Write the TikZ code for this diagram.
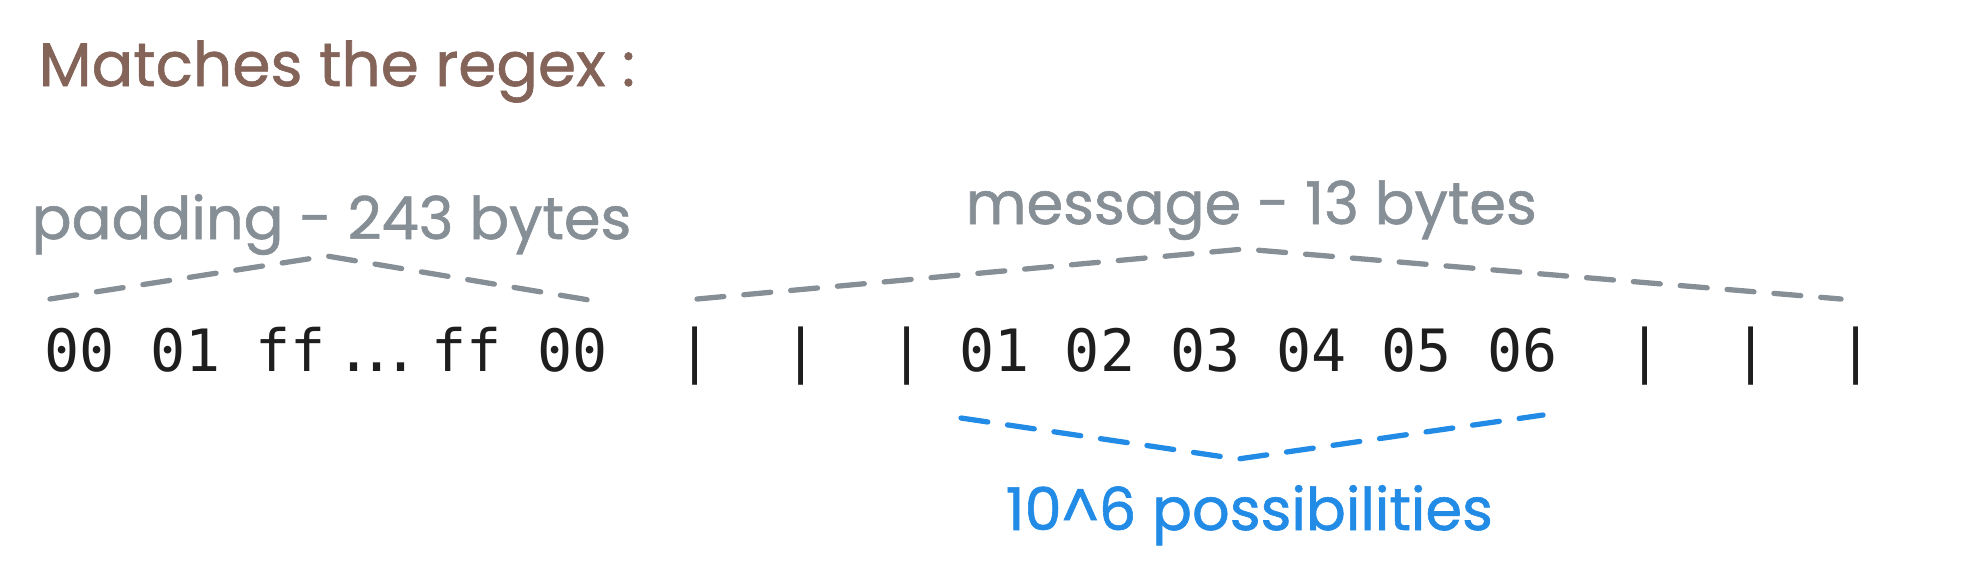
\documentclass[tikz,border=0pt]{standalone}
\usepackage{fontspec}
\usepackage{tikz}
\usetikzlibrary{positioning}
\setmonofont{DejaVu Sans Mono}
\newfontfamily\handfont[FakeBold=1]{Poppins}
\definecolor{mybrown}{RGB}{132, 99, 88}
\definecolor{mygray}{RGB}{134, 142, 150}
\definecolor{myblue}{RGB}{34, 139, 230}
\definecolor{myblack}{RGB}{30, 30, 30}
\newcommand{\bytedots}{\kern0.17em.\kern-0.2em.\kern-0.2em.}

\begin{document}
\begin{tikzpicture}[
    hand/.style={font=\handfont\fontsize{16.8}{20}\selectfont, inner sep=0pt, anchor=base west},
    byte/.style={font=\ttfamily\fontsize{16.6}{20}\selectfont, text=myblack, inner sep=0pt, anchor=base west},
    brace/.style={dash pattern=on 0.27cm off 0.2cm, line width=1.5pt, line cap=round, line join=round},
]
    \useasboundingbox (0,0) rectangle (19.7,-5.85);

    % title
    \node[hand, mybrown, font=\handfont\fontsize{17.5}{21}\selectfont] (title) at (0.38,-0.86) {Matches the regex :};

    % byte row
    \foreach \i/\t [count=\n] in {0/00, 3/01, 6/ff, 8/\bytedots, 11/ff, 14/00, 18/|, 21/|, 24/|,
        26/01, 29/02, 32/03, 35/04, 38/05, 41/06, 45/|, 48/|, 51/|}
        \node[byte] (b\n) at ({0.44+\i*0.3518},-3.71) {\t};

    % padding
    \node[hand, mygray] (padlabel) at (0.31,-2.39) {padding - 243 bytes};
    \draw[brace, mygray] (0.50,-2.99) -- (3.27,-2.56) -- (6.01,-3.02);

    % message
    \node[hand, mygray] (msglabel) at (9.65,-2.24) {message - 13 bytes};
    \draw[brace, mygray] (6.97,-2.99) -- (12.44,-2.49) -- (18.41,-2.99);

    % possibilities
    \draw[brace, myblue] (9.61,-4.18) -- (12.38,-4.59) -- (15.43,-4.15);
    \node[hand, myblue] (possib) at (10.05,-5.30) {10\^{}6 possibilities};
\end{tikzpicture}
\end{document}
